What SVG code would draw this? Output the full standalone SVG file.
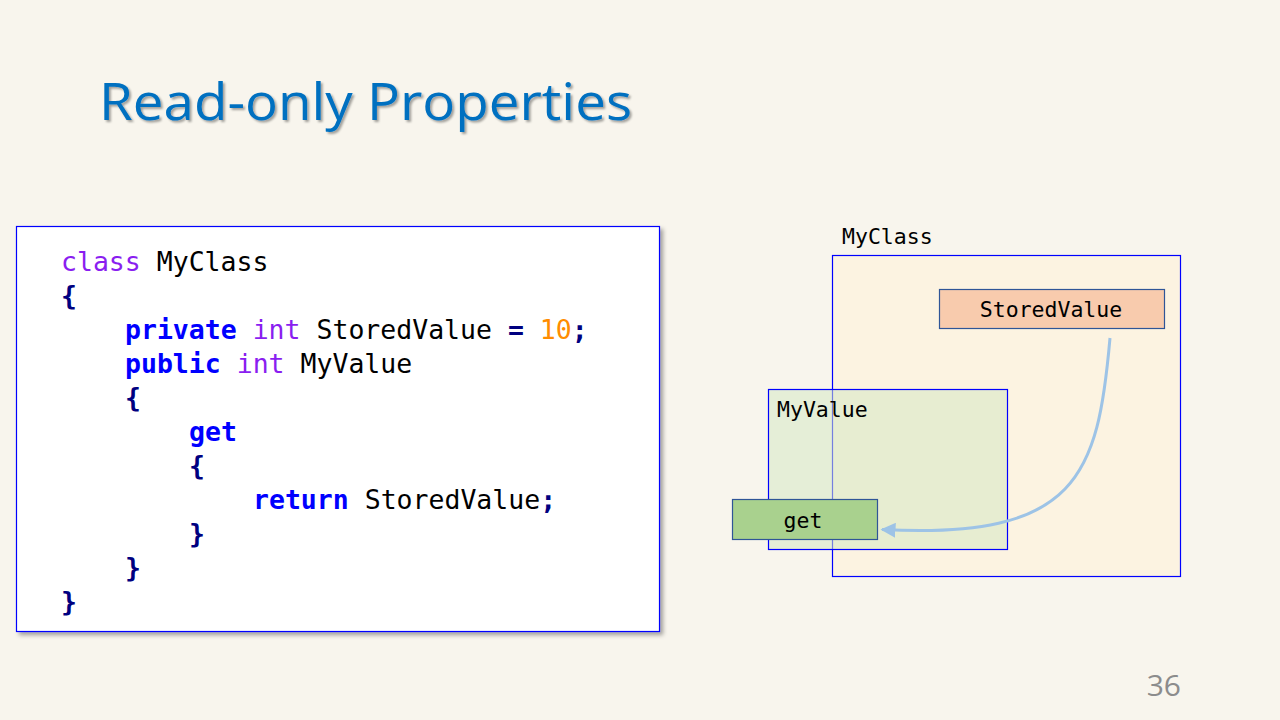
<svg xmlns="http://www.w3.org/2000/svg" width="1280" height="720" viewBox="0 0 1280 720">
  <defs>
    <filter id="titleShadow" x="-5%" y="-20%" width="110%" height="150%">
      <feDropShadow dx="2" dy="2" stdDeviation="1.2" flood-color="#000" flood-opacity="0.35"/>
    </filter>
    <filter id="boxShadow" x="-5%" y="-5%" width="110%" height="110%">
      <feDropShadow dx="3" dy="3" stdDeviation="2" flood-color="#000" flood-opacity="0.35"/>
    </filter>
    <marker id="arrowHead" viewBox="0 0 10 10" refX="9" refY="5" markerWidth="5" markerHeight="5" orient="auto">
      <path d="M0,0 L10,5 L0,10 Z" fill="#9dc3e6"/>
    </marker>
    <style>
      .code { font-family: "DejaVu Sans Mono", "Liberation Mono", monospace; font-size: 26.5px; }
      .kw { fill: #0000ff; font-weight: bold; }
      .type { fill: #8a1ef0; }
      .plain { fill: #000000; }
      .brace { fill: #000080; font-weight: bold; }
      .num { fill: #ff8c00; }
      .label { font-family: "DejaVu Sans Mono", "Liberation Mono", monospace; font-size: 21.5px; fill: #000; }
      .frame { stroke: #0000ff; stroke-width: 1.2; }
      .slot { stroke: #2f5597; stroke-width: 1.2; }
    </style>
  </defs>

  <!-- page background -->
  <rect x="0" y="0" width="1280" height="720" fill="#f8f5ed"/>

  <!-- title -->
  <text x="99" y="120" font-family="'Open Sans', 'Noto Sans', sans-serif" font-size="52" font-weight="500" fill="#0070c0" textLength="533" lengthAdjust="spacingAndGlyphs" filter="url(#titleShadow)">Read-only Properties</text>

  <!-- code listing -->
  <g id="code-box">
    <rect x="16.5" y="226.5" width="643" height="405" fill="#ffffff" stroke="#0000ff" stroke-width="1.2" filter="url(#boxShadow)"/>
    <g class="code">
      <text x="61" y="271"><tspan class="type">class</tspan><tspan class="plain"> MyClass</tspan></text>
      <text x="61" y="305" class="brace">{</text>
      <text x="125" y="339"><tspan class="kw">private</tspan><tspan class="type"> int</tspan><tspan class="plain"> StoredValue </tspan><tspan class="brace">=</tspan><tspan class="num"> 10</tspan><tspan class="brace">;</tspan></text>
      <text x="125" y="373"><tspan class="kw">public</tspan><tspan class="type"> int</tspan><tspan class="plain"> MyValue</tspan></text>
      <text x="125" y="407" class="brace">{</text>
      <text x="189" y="441" class="kw">get</text>
      <text x="189" y="475" class="brace">{</text>
      <text x="253" y="509"><tspan class="kw">return</tspan><tspan class="plain"> StoredValue</tspan><tspan class="brace">;</tspan></text>
      <text x="189" y="543" class="brace">}</text>
      <text x="125" y="577" class="brace">}</text>
      <text x="61" y="611" class="brace">}</text>
    </g>
  </g>

  <!-- class frame -->
  <g id="myclass">
    <text x="842" y="244" class="label">MyClass</text>
    <rect x="832.5" y="255.5" width="348" height="321" fill="#fdf2dc" fill-opacity="0.75" class="frame"/>
  </g>

  <g id="storedvalue">
    <rect x="939.5" y="289.5" width="225" height="39" fill="#f8cbad" class="slot"/>
    <text x="1051" y="317" class="label" text-anchor="middle">StoredValue</text>
  </g>

  <!-- property frame, translucent so the class edge shows through -->
  <g id="myvalue">
    <rect x="768.5" y="389.5" width="239" height="160" fill="#d5e8c4" fill-opacity="0.55" class="frame"/>
    <text x="777" y="417" class="label">MyValue</text>
  </g>

  <g id="get">
    <rect x="732.5" y="499.5" width="145" height="40" fill="#a9d18e" class="slot"/>
    <text x="803" y="528" class="label" text-anchor="middle">get</text>
  </g>

  <!-- connectors -->
  <g id="connectors">
    <path d="M1110,338 C1098,475 1078,540 882,529.5" fill="none" stroke="#9dc3e6" stroke-width="3" marker-end="url(#arrowHead)"/>
  </g>

  <!-- page number -->
  <text x="1181" y="696" font-family="'Open Sans', 'Noto Sans', sans-serif" font-size="30" fill="#8c8c8c" text-anchor="end">36</text>
</svg>
